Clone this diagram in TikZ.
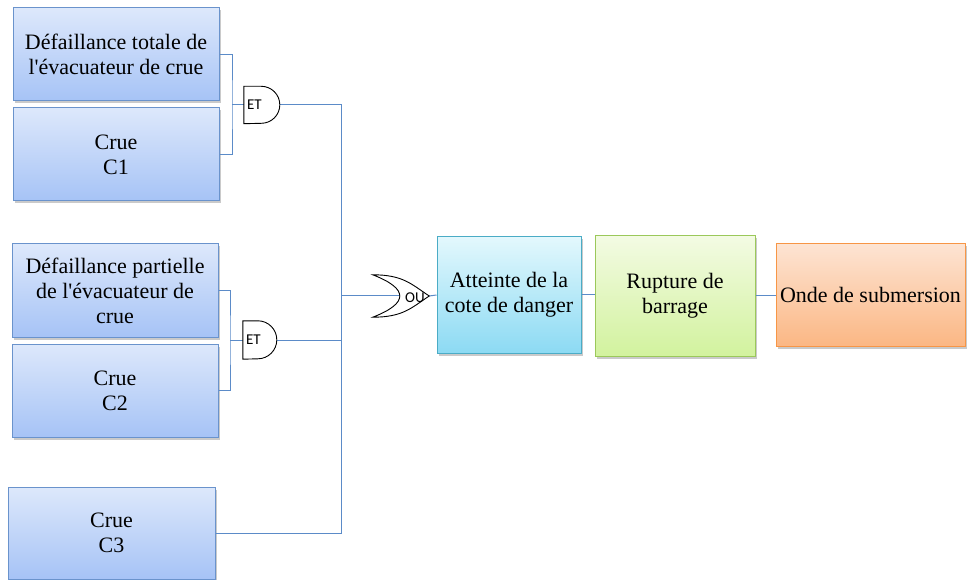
\documentclass[tikz,border=0pt]{standalone}
\usepackage{fontspec}
\setmainfont{Liberation Serif}
\newfontfamily\gatefont{Carlito}
\usetikzlibrary{shadows}
\definecolor{bluetop}{HTML}{DDE8FB}
\definecolor{bluebot}{HTML}{A6C3F6}
\definecolor{blueborder}{HTML}{6A93CC}
\definecolor{linecol}{HTML}{5B8BC8}
\definecolor{cyantop}{HTML}{E3F8FD}
\definecolor{cyanbot}{HTML}{8CDAF3}
\definecolor{cyanborder}{HTML}{4BACC6}
\definecolor{greentop}{HTML}{F3FBE3}
\definecolor{greenbot}{HTML}{D2F29E}
\definecolor{greenborder}{HTML}{9BC85A}
\definecolor{orangetop}{HTML}{FDE4D3}
\definecolor{orangebot}{HTML}{FBB784}
\definecolor{orangeborder}{HTML}{F79646}
\tikzset{
  evbox/.style={rectangle, draw=blueborder, line width=1pt, top color=bluetop, bottom color=bluebot,
    align=center, font=\fontsize{22}{25}\selectfont, inner sep=1pt,
    drop shadow={shadow xshift=1.5pt, shadow yshift=-2.5pt, opacity=0.35, fill=black!60}},
  attbox/.style={evbox, draw=cyanborder, top color=cyantop, bottom color=cyanbot},
  rupbox/.style={evbox, draw=greenborder, top color=greentop, bottom color=greenbot},
  ondebox/.style={evbox, draw=orangeborder, top color=orangetop, bottom color=orangebot},
  conn/.style={draw=linecol, line width=1pt},
  gatebox/.style={rectangle, inner sep=0pt},
  gateline/.style={draw=black, line width=0.9pt, fill=white},
  gatetext/.style={font=\gatefont\fontsize{15}{15}\selectfont, inner sep=0pt}
}
\begin{document}
\begin{tikzpicture}[x=1pt, y=-1pt]
\useasboundingbox (0,0) rectangle (967,580);
% boxes
\node[evbox, minimum width=206pt, minimum height=93pt] (b1) at (116,54.5) {Défaillance totale de\\l\textquotesingle évacuateur de crue};
\node[evbox, minimum width=206pt, minimum height=93pt] (b2) at (116,154.5) {Crue\\C1};
\node[evbox, minimum width=206pt, minimum height=93pt] (b3) at (115,290.5) {Défaillance partielle\\de l\textquotesingle évacuateur de\\crue};
\node[evbox, minimum width=206pt, minimum height=93pt] (b4) at (115,390.5) {Crue\\C2};
\node[evbox, minimum width=207pt, minimum height=92pt] (b5) at (111.5,533) {Crue\\C3};
\node[attbox, minimum width=144pt, minimum height=116pt] (att) at (509,295) {Atteinte de la\\cote de danger};
\node[rupbox, minimum width=160pt, minimum height=120pt] (rup) at (675,296) {Rupture de\\barrage};
\node[ondebox, minimum width=189pt, minimum height=102pt] (onde) at (870.5,295) {Onde de submersion};
% gates
\node[gatebox, minimum width=36pt, minimum height=37pt] (g1) at (262,105) {};
\node[gatebox, minimum width=34pt, minimum height=38pt] (g2) at (260,340) {};
\node[gatebox, minimum width=56pt, minimum height=42pt] (ou) at (401,296) {};
\coordinate (k1) at (232,105);
\coordinate (k2) at (230,340);
\coordinate (bus) at (341,296);
\coordinate (oub) at (400,296);
% connectors
\draw[conn] (b1.east) -| (k1) |- (b2.east);
\draw[conn] (k1) -- (g1.west);
\draw[conn] (b3.east) -| (k2) |- (b4.east);
\draw[conn] (k2) -- (g2.west);
\draw[conn] (g1.east) -| (bus);
\draw[conn] (g2.east) -| (bus);
\draw[conn] (b5.east) -| (bus);
\draw[conn] (bus) -- (oub);
\draw[conn] (ou.east) -- (att.west);
\draw[conn] (att.east) -- (att.east -| rup.west);
\draw[conn] (rup.east) -- (rup.east -| onde.west);
% gate outlines
\draw[gateline] (g1.north west) -- ++(17.5,0) arc[start angle=-90, end angle=90, radius=18.5] -- (g1.south west) -- cycle;
\draw[gateline] (g2.north west) -- ++(15,0) arc[start angle=-90, end angle=90, radius=19] -- (g2.south west) -- cycle;
\draw[gateline] (ou.north west) .. controls +(30,0) and +(-18,-12) .. (ou.east)
  .. controls +(-18,12) and +(30,0) .. (ou.south west)
  .. controls +(36,-14) and +(36,14) .. (ou.north west) -- cycle;
\node[gatetext, anchor=west] at ([xshift=3pt]g1.west) {ET};
\node[gatetext, anchor=west] at ([xshift=3pt]g2.west) {ET};
\node[gatetext] at (415,298) {OU};
\end{tikzpicture}
\end{document}
